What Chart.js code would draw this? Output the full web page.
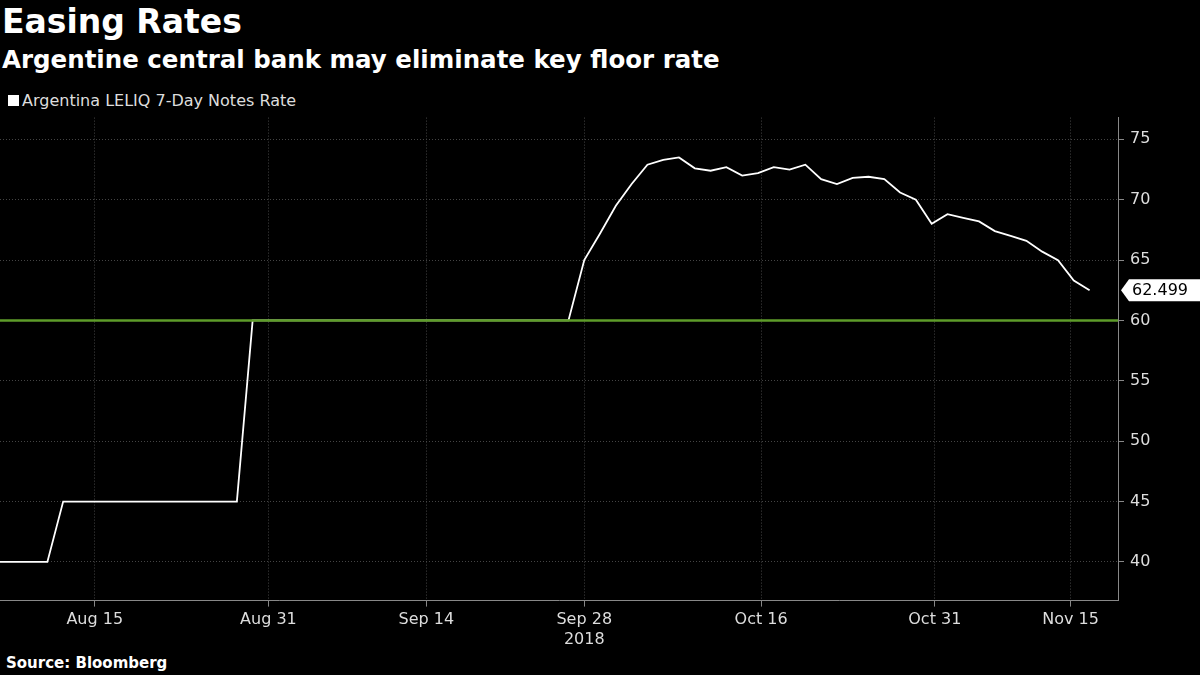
<!DOCTYPE html>
<html>
<head>
<meta charset="utf-8">
<script src="https://cdn.jsdelivr.net/npm/chart.js@4"></script>
<style>
  body { margin: 0; background: #000; width: 1200px; height: 675px; overflow: hidden; position: relative; font-family: "DejaVu Sans", sans-serif; color: #fff; }
  #title { position: absolute; left: 2px; top: 2px; font-size: 33px; font-weight: bold; }
  #sub { position: absolute; left: 2px; top: 45px; font-size: 24.5px; font-weight: bold; }
  #legend { position: absolute; left: 8px; top: 91px; font-size: 16px; color: #ddd; }
  #legend span { display: inline-block; width: 11px; height: 11px; background: #fff; margin-right: 3px; }
  #source { position: absolute; left: 6px; top: 654px; font-size: 15px; font-weight: bold; }
  #wrap { position: absolute; left: 0; top: 102px; width: 1200px; height: 551px; }
</style>
</head>
<body>
<div id="title">Easing Rates</div>
<div id="sub">Argentine central bank may eliminate key floor rate</div>
<div id="legend"><span></span>Argentina LELIQ 7-Day Notes Rate</div>
<div id="source">Source: Bloomberg</div>
<div id="wrap"><canvas id="chart"></canvas></div>
<script>
// x is trading-day index from Aug 7 2018
const dayIndex = [0, 3, 4, 15, 16, 36, 37, 38, 39, 40, 41, 42, 43, 44, 45, 46, 47, 48, 49, 50, 51, 52, 53, 54, 55, 56, 57, 58, 59, 60, 61, 62, 63, 64, 65, 66, 67, 68, 69];
const rate = [40, 40, 45, 45, 60, 60, 65, 67.2, 69.5, 71.3, 72.9, 73.3, 73.5, 72.6, 72.4, 72.7, 72, 72.2, 72.7, 72.5, 72.9, 71.7, 71.3, 71.8, 71.9, 71.7, 70.6, 70, 68, 68.8, 68.5, 68.2, 67.4, 67, 66.6, 65.7, 65, 63.3, 62.499];
const floorRate = 60;
const tickPos = [6, 17, 27, 37, 48.2, 59.2, 67.8];
const tickLabels = [['Aug 15'], ['Aug 31'], ['Sep 14'], ['Sep 28', '2018'], ['Oct 16'], ['Oct 31'], ['Nov 15']];
const yTicks = [40, 45, 50, 55, 60, 65, 70, 75];
const tickFont = { size: 16, family: '"DejaVu Sans", sans-serif' };

const lastLabel = {
  id: 'lastLabel',
  afterDatasetsDraw(chart) {
    const ctx = chart.ctx;
    const y = chart.scales.y.getPixelForValue(rate[rate.length - 1]);
    const x = chart.chartArea.right + 3;
    ctx.save();
    ctx.fillStyle = '#fff';
    ctx.beginPath();
    ctx.moveTo(x, y);
    ctx.lineTo(x + 8, y - 11);
    ctx.lineTo(x + 80, y - 11);
    ctx.lineTo(x + 80, y + 11);
    ctx.lineTo(x + 8, y + 11);
    ctx.closePath();
    ctx.fill();
    ctx.fillStyle = '#000';
    ctx.font = '16px "DejaVu Sans", sans-serif';
    ctx.textBaseline = 'middle';
    ctx.fillText('62.499', x + 11, y + 1);
    ctx.restore();
  }
};

new Chart(document.getElementById('chart'), {
  type: 'line',
  data: {
    datasets: [{
      data: [{x: 0, y: floorRate}, {x: 70.8, y: floorRate}],
      borderColor: '#5e9c2a',
      borderWidth: 2.5,
      pointRadius: 0
    }, {
      data: dayIndex.map((d, i) => ({x: d, y: rate[i]})),
      borderColor: '#fff',
      borderWidth: 1.8,
      pointRadius: 0,
      tension: 0
    }]
  },
  options: {
    animation: false,
    responsive: true,
    maintainAspectRatio: false,
    layout: { padding: { left: 0, right: 0, top: 8, bottom: 0 } },
    plugins: { legend: { display: false }, tooltip: { enabled: false } },
    scales: {
      x: {
        type: 'linear',
        min: 0,
        max: 70.8,
        afterBuildTicks: s => { s.ticks = tickPos.map(v => ({value: v})); },
        ticks: {
          color: '#ddd',
          font: tickFont,
          maxRotation: 0,
          autoSkip: false,
          padding: 4,
          callback: (v, i) => tickLabels[i]
        },
        grid: { color: '#444', tickLength: 6, tickColor: '#888' },
        border: { color: '#888', dash: [1, 2] }
      },
      y: {
        position: 'right',
        min: 36.8,
        max: 76.8,
        afterBuildTicks: s => { s.ticks = yTicks.map(v => ({value: v})); },
        afterFit: s => { s.width = 82; },
        ticks: {
          color: '#ddd',
          font: tickFont,
          padding: 6
        },
        grid: { color: '#444', tickLength: 6, tickColor: '#888' },
        border: { color: '#888', dash: [1, 2] }
      }
    }
  },
  plugins: [lastLabel]
});
</script>
</body>
</html>
